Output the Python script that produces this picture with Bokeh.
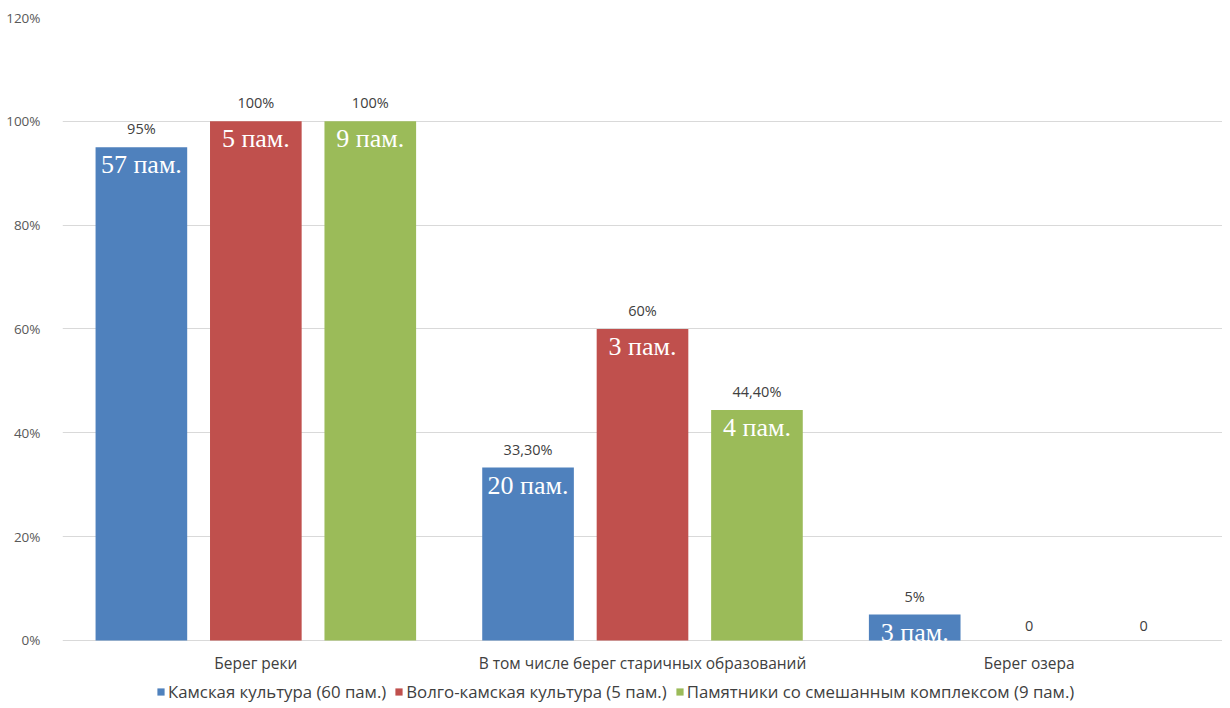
from bokeh.plotting import figure
from bokeh.models import (ColumnDataSource, FactorRange, Range1d, LabelSet, Legend, LegendItem,
                          FixedTicker, PrintfTickFormatter)
from bokeh.core.properties import value
from bokeh.transform import dodge
from bokeh.embed import file_html
from bokeh.resources import INLINE

categories = ["Берег реки", "В том числе берег старичных образований", "Берег озера"]
series_names = ["Камская культура (60 пам.)", "Волго-камская культура (5 пам.)",
                "Памятники со смешанным комплексом (9 пам.)"]
kama = [95, 33.3, 5]
volga = [100, 60, 0]
mixed = [100, 44.4, 0]
kama_pct = ["95%", "33,30%", "5%"]
volga_pct = ["100%", "60%", "0"]
mixed_pct = ["100%", "44,40%", "0"]
kama_cnt = ["57 пам.", "20 пам.", "3 пам."]
volga_cnt = ["5 пам.", "3 пам.", ""]
mixed_cnt = ["9 пам.", "4 пам.", ""]
y_ticks = [0, 20, 40, 60, 80, 100, 120]

colors = ["#4F81BD", "#C0504D", "#9BBB59"]
offsets = [-0.296, 0.0, 0.296]
bar_w = 0.237

# frame extends below zero to host category labels and legend
p = figure(x_range=FactorRange(*categories), y_range=Range1d(-12.33, 120),
           frame_width=1160, frame_height=687, output_backend="svg", toolbar_location=None,
           min_border_left=62, min_border_right=0, min_border_top=17, min_border_bottom=0)
p.outline_line_color = None
p.background_fill_color = "white"
p.border_fill_color = "white"
p.xaxis.visible = False

data_sets = [(kama, kama_pct, kama_cnt), (volga, volga_pct, volga_cnt), (mixed, mixed_pct, mixed_cnt)]
items = []
for (vals, pct, cnt), col, off, name in zip(data_sets, colors, offsets, series_names):
    src = ColumnDataSource(dict(cat=categories, val=vals, pct=pct, cnt=cnt))
    r = p.vbar(x=dodge("cat", off, range=p.x_range), top="val", bottom=0, width=bar_w, source=src,
               fill_color=col, line_color=None)
    items.append(LegendItem(label=name, renderers=[r]))
    p.add_layout(LabelSet(x=dodge("cat", off, range=p.x_range), y="val", text="pct", source=src,
                          text_align="center", text_baseline="bottom", y_offset=9,
                          text_font=value("Open Sans"), text_font_size=value("14.5px"),
                          text_color=value("#404040")))
    p.add_layout(LabelSet(x=dodge("cat", off, range=p.x_range), y="val", text="cnt", source=src,
                          text_align="center", text_baseline="top", y_offset=-3,
                          text_font=value("Liberation Serif"), text_font_size=value("26px"),
                          text_color=value("white")))

# category labels under the zero line
cat_src = ColumnDataSource(dict(cat=categories, base=[0] * len(categories)))
p.add_layout(LabelSet(x="cat", y="base", text="cat", source=cat_src,
                      text_align="center", text_baseline="middle", y_offset=-23,
                      text_font=value("Open Sans"), text_font_size=value("15.5px"),
                      text_color=value("#404040")))

p.yaxis.ticker = FixedTicker(ticks=y_ticks)
p.yaxis.formatter = PrintfTickFormatter(format="%d%%")
p.yaxis.axis_line_color = None
p.yaxis.major_tick_line_color = None
p.yaxis.minor_tick_line_color = None
p.yaxis.major_label_text_font = "Open Sans"
p.yaxis.major_label_text_font_size = "13.5px"
p.yaxis.major_label_text_color = "#595959"
p.yaxis.major_label_standoff = 16

p.xgrid.grid_line_color = None
p.ygrid.grid_line_color = "#d9d9d9"

legend = Legend(items=items, orientation="horizontal", location=(94, 1),
                label_text_font="Open Sans", label_text_font_size="16.8px", label_text_color="#404040",
                glyph_width=9, glyph_height=9, spacing=8, label_standoff=3,
                border_line_color=None, background_fill_alpha=0, margin=0, padding=2)
p.add_layout(legend, "center")

open("out.html", "w").write(file_html(p, INLINE))
